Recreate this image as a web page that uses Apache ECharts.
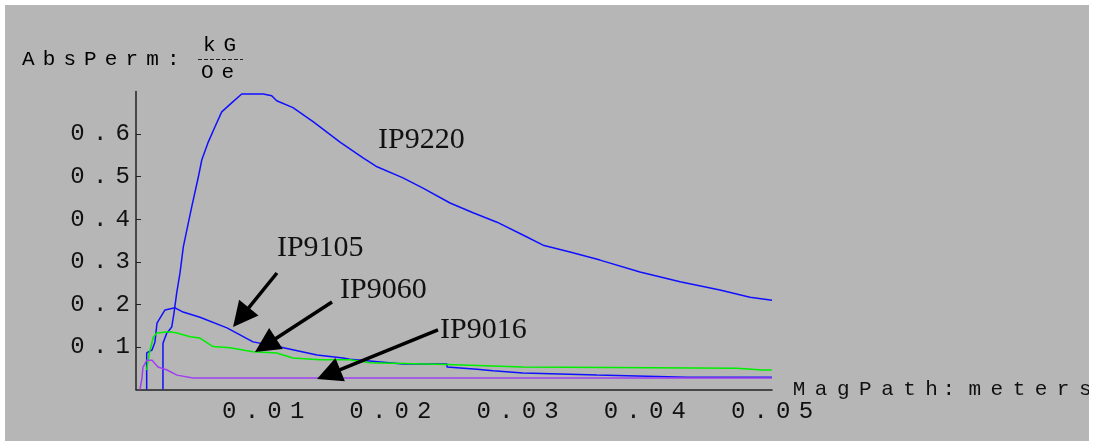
<!DOCTYPE html>
<html>
<head>
<meta charset="utf-8">
<script src="https://cdn.jsdelivr.net/npm/echarts@6/dist/echarts.min.js"></script>
<style>
  body { margin: 0; background: #fff; }
  #chart { position: absolute; left: 5px; top: 5px; width: 1084px; height: 436px; }
</style>
</head>
<body>
<div id="chart"></div>
<script>
// curves: [MagPath (m), AbsPerm (kG/Oe)]
const ip9220 = [
  [0.00212, 0], [0.00212, 0.109], [0.00241, 0.132], [0.00281, 0.147], [0.00299, 0.180],
  [0.0032, 0.227], [0.00346, 0.274], [0.00372, 0.335], [0.00411, 0.391], [0.00438, 0.429],
  [0.0049, 0.499], [0.00517, 0.539], [0.00568, 0.581], [0.00621, 0.617], [0.00674, 0.652],
  [0.00752, 0.673], [0.00831, 0.694], [0.01001, 0.694], [0.01067, 0.690], [0.01106, 0.678],
  [0.01234, 0.662], [0.01392, 0.629], [0.01604, 0.581], [0.01785, 0.544], [0.01895, 0.523],
  [0.02099, 0.497], [0.02256, 0.473], [0.02469, 0.438], [0.0265, 0.415], [0.02838, 0.393],
  [0.03042, 0.363], [0.032, 0.339], [0.03412, 0.323], [0.03648, 0.304], [0.03962, 0.276],
  [0.04277, 0.253], [0.04591, 0.234], [0.04827, 0.217], [0.05, 0.210]
];
const ip9105 = [
  [0.00084, 0], [0.00084, 0.086], [0.00097, 0.089], [0.00126, 0.093], [0.00149, 0.112],
  [0.00165, 0.156], [0.00228, 0.187], [0.00307, 0.192], [0.0037, 0.182], [0.00503, 0.170],
  [0.00715, 0.145], [0.0092, 0.112], [0.01132, 0.100], [0.01423, 0.081], [0.01627, 0.074],
  [0.01682, 0.071], [0.02099, 0.060], [0.02445, 0.060], [0.02445, 0.053], [0.02681, 0.048],
  [0.02807, 0.044], [0.03042, 0.039], [0.03624, 0.034], [0.04332, 0.029], [0.05, 0.029]
];
const ip9060 = [
  [0.00084, 0.046], [0.00105, 0.086], [0.00136, 0.123], [0.00163, 0.133], [0.00267, 0.136],
  [0.00322, 0.133], [0.00425, 0.124], [0.00503, 0.121], [0.00605, 0.101], [0.00739, 0.098],
  [0.0092, 0.089], [0.01106, 0.086], [0.01234, 0.074], [0.01447, 0.070], [0.01682, 0.070],
  [0.0184, 0.063], [0.02445, 0.059], [0.03042, 0.053], [0.04725, 0.050], [0.04921, 0.046],
  [0.05, 0.046]
];
const ip9016 = [
  [0.00031, 0], [0.00047, 0.027], [0.00055, 0.053], [0.00086, 0.069], [0.00126, 0.069],
  [0.00173, 0.053], [0.00244, 0.046], [0.00322, 0.034], [0.00448, 0.027], [0.05, 0.027]
];

// annotations (data coordinates); arrowTo is the middle of the arrow head
const labelNames = ['IP9220', 'IP9105', 'IP9060', 'IP9016'];
const labelPos = [[0.01903, 0.5859], [0.01108, 0.3324], [0.01604, 0.2338], [0.0239, 0.1399]];
const arrowFrom = [null, [0.01108, 0.2737], [0.01541, 0.2056], [0.02374, 0.1401]];
const arrowTo = [null, [0.00825, 0.1697], [0.01018, 0.1042], [0.01514, 0.0357]];

const MONO = 'Liberation Mono';

// each character in a fixed width box, like the wide spaced original
function spaced(str, key) {
  return str.split('').map(function (ch) {
    if (ch === ' ') return '{sp| }';
    if (ch === ':') return '{cl|:}';
    return '{' + key + '|' + ch + '}';
  }).join('');
}

const tickRich = {
  t: { width: 22.6, align: 'center', fontFamily: MONO, fontSize: 24, color: '#111' }
};
const titleRich = {
  n: { width: 20.7, align: 'center', fontFamily: MONO, fontSize: 21, color: '#111' },
  cl: { width: 20.7, align: 'center', fontFamily: MONO, fontSize: 21, color: '#111' },
  sp: { width: 0, fontFamily: MONO, fontSize: 21 }
};
const xNameRich = {
  n: { width: 22.1, align: 'center', fontFamily: MONO, fontSize: 21, color: '#111' },
  cl: { width: 12, align: 'left', fontFamily: MONO, fontSize: 21, color: '#111' },
  sp: { width: 9, fontFamily: MONO, fontSize: 21 }
};
const fracRich = {
  f: { width: 20.5, align: 'center', fontFamily: MONO, fontSize: 21, color: '#111' }
};

let myChart = echarts.init(document.getElementById('chart'));
myChart.setOption({
  animation: false,
  backgroundColor: '#b6b6b6',
  grid: { left: 131, right: 317, top: 86.4, bottom: 51.4, containLabel: false, outerBoundsMode: 'none' },
  xAxis: {
    type: 'value',
    min: 0,
    max: 0.05,
    interval: 0.01,
    name: spaced('MagPath: meters', 'n'),
    nameLocation: 'end',
    nameGap: 16,
    nameMoveOverlap: false,
    nameTextStyle: { rich: xNameRich, verticalAlign: 'middle' },
    axisLine: { onZero: false, lineStyle: { color: '#222', width: 1.5 } },
    axisTick: { show: false },
    splitLine: { show: false },
    axisLabel: {
      showMinLabel: false,
      margin: 10,
      rich: tickRich,
      formatter: function (v) {
        if (v <= 0) return '';
        return spaced(v.toFixed(2), 't');
      }
    }
  },
  yAxis: {
    type: 'value',
    min: 0,
    max: 0.7,
    interval: 0.1,
    axisLine: { show: true, onZero: false, lineStyle: { color: '#222', width: 1.5 } },
    axisTick: { show: true, inside: true, length: 5, lineStyle: { color: '#222' } },
    splitLine: { show: false },
    axisLabel: {
      showMinLabel: false,
      showMaxLabel: false,
      margin: 2,
      rich: tickRich,
      formatter: function (v) {
        if (v <= 0 || v > 0.65) return '';
        return spaced(v.toFixed(1), 't');
      }
    }
  },
  graphic: [
    {
      type: 'text', left: 17, top: 44, silent: true,
      style: { text: spaced('AbsPerm:', 'n'), rich: titleRich }
    },
    {
      type: 'text', left: 198, top: 30, silent: true,
      style: { text: '{f|k}{f|G}', rich: fracRich }
    },
    {
      type: 'text', left: 196, top: 57, silent: true,
      style: { text: '{f|O}{f|e}', rich: fracRich }
    },
    {
      type: 'line', silent: true,
      shape: { x1: 193, y1: 54.5, x2: 238, y2: 54.5 },
      style: { stroke: '#222', lineWidth: 1, lineDash: [4, 2] }
    }
  ],
  series: [
    { name: 'IP9220', type: 'line', data: ip9220, showSymbol: false, lineStyle: { color: '#1010ff', width: 1.5 } },
    { name: 'IP9105', type: 'line', data: ip9105, showSymbol: false, lineStyle: { color: '#1010ff', width: 1.5 } },
    { name: 'IP9060', type: 'line', data: ip9060, showSymbol: false, lineStyle: { color: '#00ee00', width: 1.5 } },
    { name: 'IP9016', type: 'line', data: ip9016, showSymbol: false, lineStyle: { color: '#a040f0', width: 1.5 } },
    {
      name: 'notes',
      type: 'scatter',
      data: [],
      silent: true,
      markPoint: {
        symbol: 'circle',
        symbolSize: 0,
        label: {
          show: true, position: 'right', distance: 0, formatter: '{b}',
          fontFamily: 'Liberation Serif', fontSize: 30, color: '#111'
        },
        data: labelNames.map(function (n, i) { return { name: n, coord: labelPos[i] }; })
      },
      markLine: {
        silent: true,
        symbol: ['none', 'triangle'],
        symbolSize: 25,
        label: { show: false },
        lineStyle: { color: '#000', width: 3.5, type: 'solid' },
        data: labelNames.map(function (n, i) {
          return arrowFrom[i] ? [{ coord: arrowFrom[i] }, { coord: arrowTo[i] }] : null;
        }).filter(function (d) { return d; })
      }
    }
  ]
});
</script>
</body>
</html>
